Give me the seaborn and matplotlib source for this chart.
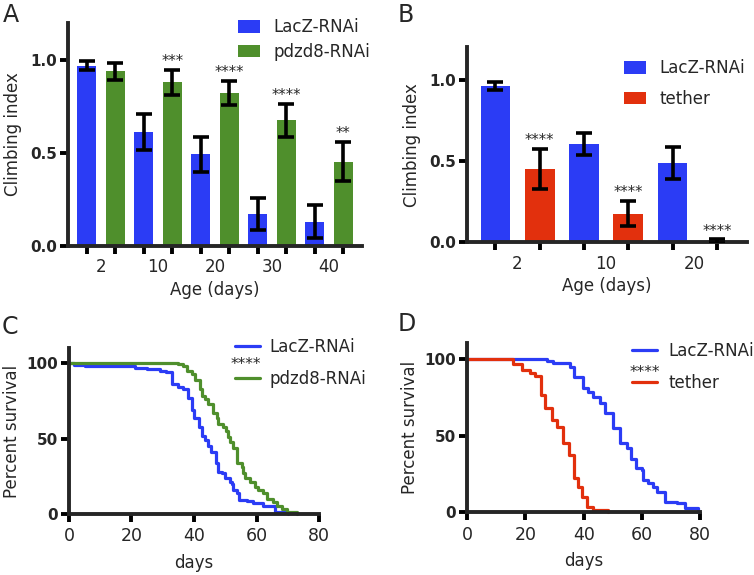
import matplotlib
matplotlib.use("Agg")
import matplotlib.pyplot as plt
import pandas as pd
import seaborn as sns

# panel A: climbing index, LacZ-RNAi vs pdzd8-RNAi
ages_a = ["2", "10", "20", "30", "40"]
lacz_a = [0.970, 0.612, 0.493, 0.173, 0.130]
lacz_a_err = [0.022, 0.095, 0.094, 0.086, 0.089]
pdzd8_a = [0.938, 0.879, 0.821, 0.675, 0.452]
pdzd8_a_err = [0.048, 0.067, 0.065, 0.088, 0.105]
stars_a = ["", "***", "****", "****", "**"]

# panel B: climbing index, LacZ-RNAi vs tether
ages_b = ["2", "10", "20"]
lacz_b = [0.963, 0.608, 0.489]
lacz_b_err = [0.022, 0.068, 0.096]
tether_b = [0.452, 0.177, 0.008]
tether_b_err = [0.123, 0.076, 0.010]
stars_b = ["****", "****", "****"]

# panel C: survival (days, percent after each step)
c_lacz_days = [0, 1.5, 5, 21, 25, 29, 31, 33, 35, 36.5, 38, 39.5, 40, 41.5, 42.5, 43.5,
               44.5, 45.5, 47, 47.8, 49, 50, 51.5, 52, 52.5, 53.8, 54.5, 57, 59, 62, 66, 70]
c_lacz_pct = [100, 99, 98, 97, 96, 95, 94, 86, 84, 83, 77, 69, 64, 58, 52, 49,
              45, 41, 34, 28, 27, 24, 21, 20, 16, 14, 9, 8.5, 7, 5, 1.5, 0]
c_pdzd8_days = [0, 35, 36.4, 37.7, 39.3, 40.3, 41.9, 42.5, 43.5, 44.6, 46.2, 47.3, 47.8,
                49.4, 50.2, 51, 51.5, 52.4, 53.7, 53.9, 55.3, 55.8, 56.3, 57.9, 59.5, 60.6,
                62.2, 63.3, 65.4, 66.5, 68, 69.7, 72.9]
c_pdzd8_pct = [100, 99.5, 98, 95, 93, 89, 83, 78, 76, 73, 67, 64, 60,
               58, 55, 51, 48, 44, 40, 34, 31, 27, 24, 21, 18, 16,
               14, 10, 8, 5, 3, 1, 0]

# panel D: survival
d_lacz_days = [0, 27.3, 29.5, 35.3, 36.8, 39.6, 41.6, 43.3, 45.6, 47.3, 50.2, 52.5, 54.7,
               56.3, 58.0, 59.9, 60.5, 62.2, 63.9, 65.0, 67.9, 71.9, 74.7, 79.3]
d_lacz_pct = [100, 98.5, 97, 94.8, 88, 80.7, 78.5, 75.3, 71, 64.5, 54.7, 44.9, 41.7,
              35, 28.6, 27.5, 21, 18.9, 16.7, 13.4, 6.9, 5.9, 2.6, 0]
d_tether_days = [0, 15.9, 18.7, 21.6, 23.3, 25.3, 26.7, 29.0, 30.8, 32.8, 35.1, 36.8,
                 37.9, 39.3, 41.3, 43.3, 48.4]
d_tether_pct = [100, 96.3, 92.6, 90.5, 88.9, 76.4, 67.7, 60, 55.7, 44.9, 37.3, 22.1,
                16.7, 10.2, 3.6, 1.5, 0]

BLUE = "#2b3cf5"
GREEN = "#4f8f2c"
RED = "#e2300d"

sns.set_style("ticks")
plt.rcParams["font.family"] = ["DejaVu Sans"]
plt.rcParams["axes.linewidth"] = 2.8


def style_axes(ax):
    sns.despine(ax=ax)
    ax.tick_params(axis="both", which="major", width=2.8, length=6, labelsize=12, color="black")
    ax.tick_params(axis="y", labelsize=11, pad=2)
    for lbl in ax.get_yticklabels():
        lbl.set_fontweight("bold")


def climbing(ax, ages, groups, vals, errs, colors, stars, xlim, leg_xy, leg_space):
    df = pd.DataFrame({
        "age": ages * len(groups),
        "group": [g for g in groups for _ in ages],
        "val": [v for vs in vals for v in vs],
    })
    sns.barplot(data=df, x="age", y="val", hue="group", palette=colors, width=1.0, gap=0.33,
                errorbar=None, saturation=1, linewidth=0, ax=ax)
    bars = list(ax.containers)
    centers = []
    for cont, err in zip(bars, errs):
        xs = [b.get_x() + b.get_width() / 2 for b in cont]
        ys = [b.get_height() for b in cont]
        ax.errorbar(xs, ys, yerr=err, fmt="none", ecolor="black", elinewidth=2.6,
                    capsize=6, capthick=2.6, zorder=5)
        centers += xs
    # significance stars over the second group
    xs = [b.get_x() + b.get_width() / 2 for b in bars[1]]
    for x, v, e, s in zip(xs, vals[1], errs[1], stars):
        if s:
            ax.text(x, v + e + 0.005, s, ha="center", va="bottom", fontsize=10.5)

    ax.set_xlim(*xlim)
    ax.set_ylim(0, 1.2)
    ax.set_yticks([0, 0.5, 1.0], labels=["0.0", "0.5", "1.0"])
    ax.set_xticks(sorted(centers), labels=[""] * len(centers))
    ax.set_xticks(range(len(ages)), labels=ages, minor=True)
    ax.set_xlabel("Age (days)", fontsize=12, labelpad=3)
    ax.set_ylabel("Climbing index", fontsize=12, labelpad=6)
    style_axes(ax)
    ax.tick_params(axis="x", which="minor", length=0, pad=9, labelsize=12)
    h, l = ax.get_legend_handles_labels()
    ax.legend(h, l, loc="upper left", bbox_to_anchor=leg_xy, frameon=False, fontsize=12,
              borderpad=0, borderaxespad=0, handlelength=1.3, handleheight=0.76,
              handletextpad=0.85, labelspacing=leg_space)


def survival(ax, curves, leg_xy, leg_space, pad, stars_xy):
    for days, pct, color, label in curves:
        sns.lineplot(x=days, y=pct, drawstyle="steps-post", color=color, lw=2.3,
                     label=label, clip_on=False, ax=ax)
    ax.set_xlim(0, 80)
    ax.set_ylim(0, 110)
    ax.set_xticks([0, 20, 40, 60, 80])
    ax.set_yticks([0, 50, 100])
    ax.set_xlabel("days", fontsize=12, labelpad=6)
    ax.set_ylabel("Percent survival", fontsize=12, labelpad=4)
    style_axes(ax)
    ax.tick_params(axis="x", labelsize=12.5)
    ax.legend(loc="upper left", bbox_to_anchor=leg_xy, frameon=False, fontsize=12,
              borderpad=0, borderaxespad=0, handlelength=1.5, handletextpad=pad,
              labelspacing=leg_space)
    ax.text(stars_xy[0], stars_xy[1], "****", transform=ax.transAxes, ha="center",
            va="center", fontsize=11)


fig = plt.figure(figsize=(7.54, 5.75), dpi=100)
ax_a = fig.add_axes([0.0902, 0.5722, 0.3899, 0.3883])
ax_b = fig.add_axes([0.6194, 0.5786, 0.3714, 0.3388])
ax_c = fig.add_axes([0.0915, 0.1061, 0.3316, 0.2883])
ax_d = fig.add_axes([0.6194, 0.1090, 0.3094, 0.2939])

climbing(ax_a, ages_a, ["LacZ-RNAi", "pdzd8-RNAi"], [lacz_a, pdzd8_a],
         [lacz_a_err, pdzd8_a_err], [BLUE, GREEN], stars_a, (-0.58, 4.58), (0.578, 1.02), 0.38)
climbing(ax_b, ages_b, ["LacZ-RNAi", "tether"], [lacz_b, tether_b],
         [lacz_b_err, tether_b_err], [BLUE, RED], stars_b, (-0.57, 2.59), (0.56, 0.94), 0.75)

survival(ax_c, [(c_lacz_days, c_lacz_pct, BLUE, "LacZ-RNAi"),
                (c_pdzd8_days, c_pdzd8_pct, GREEN, "pdzd8-RNAi")],
         (0.664, 1.06), 0.8, 0.55, (0.708, 0.90))
survival(ax_d, [(d_lacz_days, d_lacz_pct, BLUE, "LacZ-RNAi"),
                (d_tether_days, d_tether_pct, RED, "tether")],
         (0.707, 1.01), 0.85, 0.7, (0.761, 0.83))

for x, y, letter in [(0.004, 0.995, "A"), (0.527, 0.995, "B"), (0.002, 0.452, "C"), (0.527, 0.457, "D")]:
    fig.text(x, y, letter, fontsize=17, va="top", ha="left")

fig.savefig("out.png", dpi=100)
